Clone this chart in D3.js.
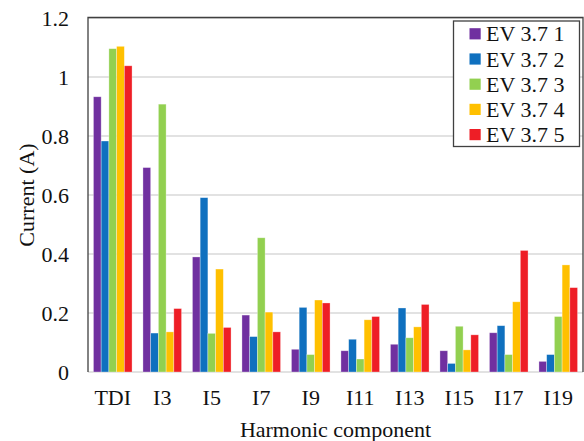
<!DOCTYPE html>
<html>
<head>
<meta charset="utf-8">
<script src="https://cdn.jsdelivr.net/npm/d3@7/dist/d3.min.js"></script>
<style>
  html, body { margin: 0; padding: 0; background: #fff; }
  svg { display: block; font-family: "Liberation Serif", "Times New Roman", serif; }
</style>
</head>
<body>
<svg id="chart" width="584" height="441"></svg>
<script>
const categories = ["TDI", "I3", "I5", "I7", "I9", "I11", "I13", "I15", "I17", "I19"];
const seriesNames = ["EV 3.7 1", "EV 3.7 2", "EV 3.7 3", "EV 3.7 4", "EV 3.7 5"];
const seriesColors = ["#7030A0", "#0F70BF", "#92D050", "#FFC000", "#EE1E26"];
const ev1 = [0.933, 0.693, 0.390, 0.193, 0.077, 0.072, 0.094, 0.072, 0.133, 0.036];
const ev2 = [0.783, 0.132, 0.591, 0.120, 0.219, 0.111, 0.217, 0.029, 0.157, 0.059];
const ev3 = [1.096, 0.908, 0.131, 0.455, 0.059, 0.044, 0.116, 0.155, 0.059, 0.188];
const ev4 = [1.104, 0.136, 0.349, 0.203, 0.244, 0.177, 0.153, 0.075, 0.238, 0.363];
const ev5 = [1.038, 0.215, 0.151, 0.136, 0.234, 0.188, 0.229, 0.126, 0.412, 0.286];
const seriesValues = [ev1, ev2, ev3, ev4, ev5];
const yTicks = [0, 0.2, 0.4, 0.6, 0.8, 1, 1.2];

const svg = d3.select("#chart");
const mLeft = 88, mRight = 583, mTop = 18, mBottom = 372;

const x0 = d3.scaleBand().domain(categories).range([mLeft, mRight])
  .paddingInner(0.22).paddingOuter(0.11);
const x1 = d3.scaleBand().domain(seriesNames).range([0, x0.bandwidth()]);
const y = d3.scaleLinear().domain([0, 1.2]).range([mBottom, mTop]);

// gridlines
svg.append("g").selectAll("line").data(yTicks).join("line")
  .attr("x1", mLeft).attr("x2", mRight)
  .attr("y1", d => y(d)).attr("y2", d => y(d))
  .attr("stroke", "#d9d9d9").attr("stroke-width", 1.3);

// bars
const groups = svg.append("g").selectAll("g").data(categories).join("g")
  .attr("transform", c => `translate(${x0(c)},0)`);
groups.selectAll("rect")
  .data((c, i) => seriesNames.map((s, k) => ({ s, k, v: seriesValues[k][i] })))
  .join("rect")
  .attr("x", d => x1(d.s))
  .attr("width", x1.bandwidth())
  .attr("y", d => y(d.v))
  .attr("height", d => y(0) - y(d.v))
  .attr("fill", d => seriesColors[d.k])
  .attr("stroke", "rgba(255,255,255,0.45)")
  .attr("stroke-width", 0.7);

// plot border (top, right, left)
svg.append("path")
  .attr("d", `M${mLeft},${mBottom}V${mTop - 0.5}H${mRight}V${mBottom}`)
  .attr("fill", "none").attr("stroke", "#404040").attr("stroke-width", 1.3);

// y axis labels
const yAxis = d3.axisLeft(y).tickValues(yTicks).tickSize(0).tickPadding(19)
  .tickFormat(d => d3.format("~g")(d));
const yg = svg.append("g").attr("transform", `translate(${mLeft},0)`).call(yAxis);
yg.select(".domain").remove();
yg.selectAll("text").attr("font-size", 22).attr("fill", "#111")
  .attr("font-family", "Liberation Serif, serif");

// x axis labels
const xAxis = d3.axisBottom(x0).tickSize(0).tickPadding(17);
const xg = svg.append("g").attr("transform", `translate(0,${mBottom})`).call(xAxis);
xg.select(".domain").remove();
xg.selectAll("text").attr("font-size", 22).attr("fill", "#111")
  .attr("font-family", "Liberation Serif, serif");

// axis titles
svg.append("text")
  .attr("transform", `translate(34,195) rotate(-90)`)
  .attr("text-anchor", "middle")
  .attr("font-size", 22).attr("fill", "#111")
  .text("Current (A)");
svg.append("text")
  .attr("x", (mLeft + mRight) / 2).attr("y", 436.5)
  .attr("text-anchor", "middle")
  .attr("font-size", 22).attr("fill", "#111")
  .text("Harmonic component");

// legend
const lg = svg.append("g");
lg.append("rect")
  .attr("x", 453.5).attr("y", 21).attr("width", 126).attr("height", 125.5)
  .attr("fill", "#fff").attr("stroke", "#404040").attr("stroke-width", 1.3);
const rows = lg.selectAll("g").data(seriesNames).join("g")
  .attr("transform", (d, i) => `translate(0,${33.8 + i * 25.2})`);
rows.append("rect")
  .attr("x", 469.5).attr("y", -5.6).attr("width", 11.2).attr("height", 11.2)
  .attr("fill", (d, i) => seriesColors[i]);
rows.append("text")
  .attr("x", 486).attr("y", 7.6)
  .attr("font-size", 22).attr("fill", "#111")
  .text(d => d);
</script>
</body>
</html>
